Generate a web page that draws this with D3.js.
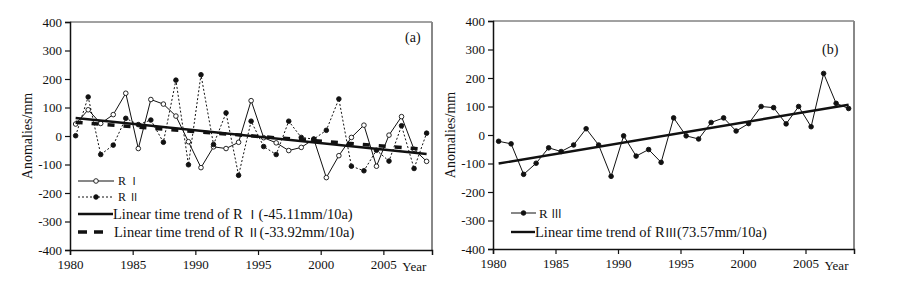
<!DOCTYPE html>
<html>
<head>
<meta charset="utf-8">
<script src="https://cdn.jsdelivr.net/npm/d3@7"></script>
<style>
  body { margin: 0; background: #fff; }
  svg { font-family: "Liberation Serif", "Times New Roman", serif; }
</style>
</head>
<body>
<svg id="chart" width="901" height="282"></svg>
<script>
// years of the series (1980-2008)
var years = d3.range(1980, 2009);
// precipitation anomalies, mm
var r1 = [42, 92, 44, 75, 150, -44, 128, 112, 70, -20, -111, -38, -44, -22, 124, -6,
          -24, -51, -40, -11, -146, -69, -5, 38, -106, 3, 68, -47, -89];
var r2 = [1, 137, -65, -32, 62, 40, 56, -22, 196, -101, 215, -30, 81, -138, 52, -37,
          -65, 52, -5, -11, 20, 130, -106, -122, -50, -88, 36, -114, 10];
var r3 = [-22, -31, -138, -99, -45, -58, -35, 22, -35, -145, -3, -74, -51, -96, 60, -3,
          -14, 44, 60, 14, 40, 100, 96, 39, 100, 29, 216, 111, 93];
// linear trend values at first and last year
var trend1 = [63, -63];
var trend2 = [48, -47];
var trend3 = [-100, 106];

var yTicks = [400, 300, 200, 100, 0, -100, -200, -300, -400];
var xTicks = [1980, 1985, 1990, 1995, 2000, 2005];

var svg = d3.select("#chart");

// write text, roman numerals in a CJK font so they get the wide glyphs
function richText(sel, parts){
  parts.forEach(function(p){
    var t = sel.append("tspan").text(p);
    if (/[ⅠⅡⅢ]/.test(p)) t.attr("font-family", "Noto Sans CJK SC").attr("font-size", "0.85em");
  });
}

function panel(opt){
  var g = svg.append("g");
  var x = d3.scaleLinear().domain([1980, 2008.88]).range([opt.left, opt.right]);
  var y = d3.scaleLinear().domain([-400, 400]).range([opt.bottom, opt.top]);
  var off = 0.45; // points sit between the year ticks

  // frame
  g.append("line").attr("x1", opt.left).attr("x2", opt.right)
    .attr("y1", opt.top).attr("y2", opt.top)
    .attr("stroke", "#444").attr("stroke-width", 1);
  g.append("line").attr("x1", opt.right).attr("x2", opt.right)
    .attr("y1", opt.top).attr("y2", opt.bottom)
    .attr("stroke", "#888").attr("stroke-width", 2);

  var yAxis = g.append("g")
    .attr("transform", "translate(" + opt.left + ",0)")
    .call(d3.axisLeft(y).tickValues(yTicks).tickSize(5).tickPadding(3)
      .tickFormat(function(d){ return d; }));
  var xAxis = g.append("g")
    .attr("transform", "translate(0," + opt.bottom + ")")
    .call(d3.axisBottom(x).tickValues(xTicks).tickSize(5).tickPadding(5)
      .tickFormat(function(d){ return d; }));
  [yAxis, xAxis].forEach(function(a){
    a.attr("font-family", "Liberation Serif, serif");
    a.select(".domain").attr("stroke", "#111").attr("stroke-width", 1.5);
    a.selectAll(".tick line").attr("stroke", "#111").attr("stroke-width", 1.2);
    a.selectAll("text").attr("font-size", "13px").attr("fill", "#111");
  });
  g.append("text").attr("x", x(2005) + 19).attr("y", opt.bottom + 21)
    .attr("font-size", "13px").attr("fill", "#111").text("Year");

  g.append("text")
    .attr("transform", "translate(" + (opt.left - 38) + "," + y(0) + ") rotate(-90)")
    .attr("text-anchor", "middle").attr("font-size", "14px").attr("fill", "#111")
    .text("Anomalies/mm");

  g.append("text").attr("x", opt.labelX).attr("y", opt.labelY)
    .attr("font-size", "14px").attr("fill", "#111").text(opt.label);

  opt.series.forEach(function(s){
    var pts = years.map(function(yr, i){ return [yr + off, s.values[i]]; });
    var line = d3.line().x(function(d){ return x(d[0]); }).y(function(d){ return y(d[1]); });
    g.append("path").datum(pts).attr("d", line)
      .attr("fill", "none").attr("stroke", "#111").attr("stroke-width", 1)
      .attr("stroke-dasharray", s.dash || null);
    g.selectAll(null).data(pts).enter().append("circle")
      .attr("cx", function(d){ return x(d[0]); })
      .attr("cy", function(d){ return y(d[1]); })
      .attr("r", 2.3)
      .attr("fill", s.open ? "#fff" : "#111")
      .attr("stroke", "#111").attr("stroke-width", 0.9);
  });
  opt.trends.forEach(function(t){
    g.append("line")
      .attr("x1", x(years[0] + off)).attr("y1", y(t.values[0]))
      .attr("x2", x(years[years.length - 1] + off)).attr("y2", y(t.values[1]))
      .attr("stroke", "#111").attr("stroke-width", t.width)
      .attr("stroke-dasharray", t.dash || null);
  });

  // legend
  opt.legend.forEach(function(l){
    g.append("line").attr("x1", l.x).attr("x2", l.x + l.len)
      .attr("y1", l.y).attr("y2", l.y)
      .attr("stroke", "#111").attr("stroke-width", l.width)
      .attr("stroke-dasharray", l.dash || null);
    if (l.marker) {
      g.append("circle").attr("cx", l.x + l.len / 2).attr("cy", l.y).attr("r", 2.3)
        .attr("fill", l.marker == "open" ? "#fff" : "#111")
        .attr("stroke", "#111").attr("stroke-width", 0.9);
    }
    var t = g.append("text").attr("x", l.x + l.len + l.gap).attr("y", l.y)
      .attr("dy", "0.35em").attr("font-size", l.size).attr("fill", "#111");
    richText(t, l.text);
  });
}

panel({
  left: 70, right: 432, top: 22, bottom: 250,
  label: "(a)", labelX: 405, labelY: 42,
  series: [{ values: r1, open: true }, { values: r2, dash: "2,2" }],
  trends: [{ values: trend1, width: 2.4 }, { values: trend2, width: 3.5, dash: "7,9" }],
  legend: [
    { x: 78, y: 181, len: 36, width: 1, marker: "open", gap: 4, size: "12px", text: ["R ", "Ⅰ"] },
    { x: 78, y: 197, len: 36, width: 1, dash: "2,2", marker: "filled", gap: 4, size: "12px", text: ["R ", "Ⅱ"] },
    { x: 78, y: 214, len: 35, width: 2.4, gap: 0, size: "14.5px", text: ["Linear time trend of R ", "Ⅰ", "(-45.11mm/10a)"] },
    { x: 78, y: 232, len: 26, width: 3.5, dash: "9,7", gap: 10, size: "14.5px", text: ["Linear time trend of R ", "Ⅱ", "(-33.92mm/10a)"] }
  ]
});

panel({
  left: 493, right: 854, top: 21, bottom: 249,
  label: "(b)", labelX: 822, labelY: 54,
  series: [{ values: r3 }],
  trends: [{ values: trend3, width: 2.4 }],
  legend: [
    { x: 511, y: 213, len: 25, width: 1, marker: "filled", gap: 3, size: "13px", text: ["R ", "Ⅲ"] },
    { x: 511, y: 232, len: 24, width: 2.4, gap: 0, size: "14.5px", text: ["Linear time trend of R", "Ⅲ", "(73.57mm/10a)"] }
  ]
});
</script>
</body>
</html>
